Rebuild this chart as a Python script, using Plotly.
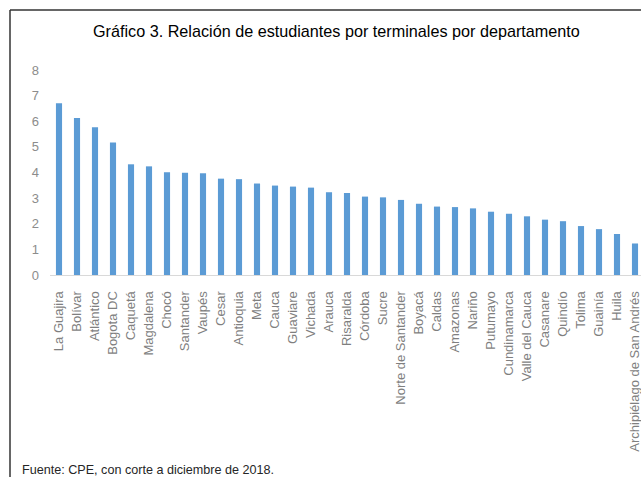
import plotly.graph_objects as go

departamentos = ["La Guajira", "Bolívar", "Atlántico", "Bogota DC", "Caquetá", "Magdalena",
                 "Chocó", "Santander", "Vaupés", "Cesar", "Antioquia", "Meta", "Cauca",
                 "Guaviare", "Vichada", "Arauca", "Risaralda", "Córdoba", "Sucre",
                 "Norte de Santander", "Boyacá", "Caldas", "Amazonas", "Nariño", "Putumayo",
                 "Cundinamarca", "Valle del Cauca", "Casanare", "Quindío", "Tolima",
                 "Guainía", "Huila", "Archipiélago de San Andrés"]
relacion = [6.70, 6.13, 5.77, 5.17, 4.32, 4.24, 4.01, 3.99, 3.97, 3.76, 3.74, 3.57,
            3.49, 3.45, 3.41, 3.23, 3.20, 3.06, 3.03, 2.93, 2.78, 2.67, 2.65, 2.60,
            2.47, 2.39, 2.29, 2.16, 2.10, 1.91, 1.79, 1.60, 1.23]
y_ticks = [0, 1, 2, 3, 4, 5, 6, 7, 8]

titulo = "Gráfico 3. Relación de estudiantes por terminales por departamento"
fuente = "Fuente: CPE, con corte a diciembre de 2018."

W, H = 641, 477
L, R, T = 50, 0, 70
B = H - 275
pw, ph = W - L - R, H - T - B

def px_x(p):
    return (p - L) / pw

def px_y(p):
    return (H - B - p) / ph

fig = go.Figure(go.Bar(
    x=list(range(len(departamentos))), y=relacion,
    marker=dict(color="#5B9BD5", line=dict(width=0)),
    width=0.34,
))

font_main = "Liberation Sans, Arial, sans-serif"

fig.update_layout(
    width=W, height=H,
    margin=dict(l=L, r=R, t=T, b=B),
    paper_bgcolor="white", plot_bgcolor="white",
    showlegend=False,
    xaxis=dict(
        tickmode="array", tickvals=list(range(len(departamentos))), ticktext=departamentos,
        range=[-0.5, pw / 18 - 0.5],
        tickangle=-90, showgrid=False, zeroline=False,
        showline=True, linecolor="#d9d9d9", linewidth=1,
        ticks="", ticklabelstandoff=10, ticklabeloverflow="allow",
        tickfont=dict(family=font_main, size=13, color="#7f7f7f"),
    ),
    yaxis=dict(
        range=[0, 8], tickmode="array", tickvals=y_ticks,
        showgrid=False, zeroline=False, showline=False, ticks="",
        ticklabelstandoff=10,
        tickfont=dict(family=font_main, size=13, color="#8c8c8c"),
    ),
    annotations=[
        dict(text=titulo, xref="paper", yref="paper", x=px_x(336), y=px_y(31),
             xanchor="center", yanchor="middle", showarrow=False,
             font=dict(family=font_main, size=16.2, color="#000000")),
        dict(text=fuente, xref="paper", yref="paper", x=px_x(20), y=px_y(470),
             xanchor="left", yanchor="middle", showarrow=False,
             font=dict(family=font_main, size=12.6, color="#262626")),
    ],
    shapes=[
        dict(type="line", xref="paper", yref="paper", x0=px_x(10), x1=px_x(10),
             y0=px_y(10), y1=px_y(480), line=dict(color="#333333", width=1.5)),
        dict(type="line", xref="paper", yref="paper", x0=px_x(10), x1=px_x(645),
             y0=px_y(10), y1=px_y(10), line=dict(color="#333333", width=1.5)),
    ],
)

fig.write_html(
    "out.html",
    config={"displayModeBar": False},
    post_script="document.body.style.margin='0';document.body.style.overflow='hidden';",
)
